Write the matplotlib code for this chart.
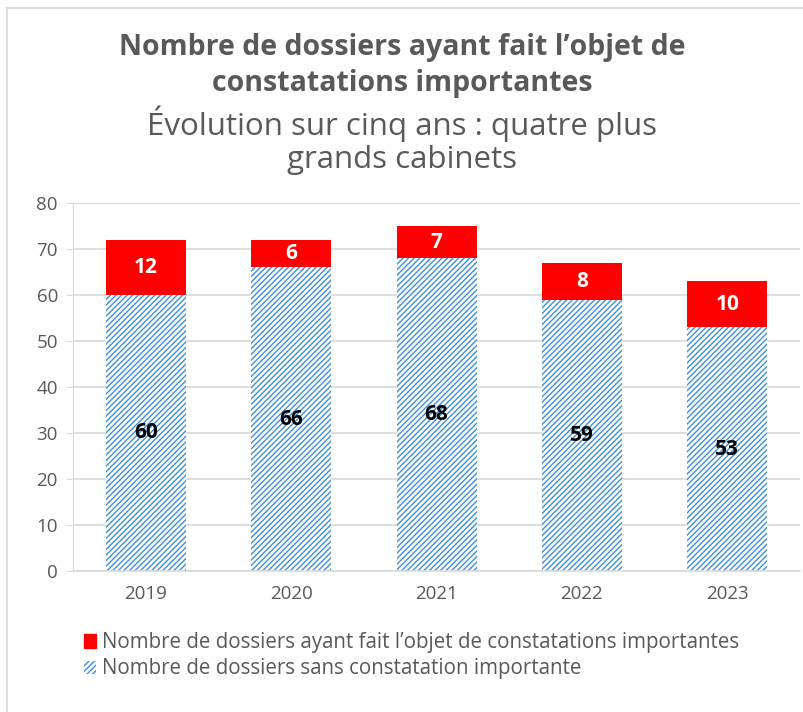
import matplotlib
matplotlib.use("Agg")
import matplotlib.pyplot as plt
from matplotlib.patches import Patch
import numpy as np

plt.rcParams['font.family'] = ['Open Sans', 'DejaVu Sans']
plt.rcParams['hatch.linewidth'] = 1.0

years = ["2019", "2020", "2021", "2022", "2023"]
sans_constatation = [60, 66, 68, 59, 53]
avec_constatation = [12, 6, 7, 8, 10]

label_red = "Nombre de dossiers ayant fait l\u2019objet de constatations importantes"
label_blue = "Nombre de dossiers sans constatation importante"

grey = "#595959"
blue = "#3d8fd6"
red = "#ff0000"

fig = plt.figure(figsize=(8.04, 7.12), dpi=100)
ax = fig.add_axes([0.091, 0.198, 0.904, 0.517])

x = np.arange(len(years))
w = 0.55
ax.bar(x, sans_constatation, w, color="white", edgecolor=blue, hatch="//////", linewidth=0)
ax.bar(x, avec_constatation, w, bottom=sans_constatation, color=red, linewidth=0)

for i in range(len(years)):
    ax.text(x[i], sans_constatation[i] / 2, str(sans_constatation[i]), ha="center", va="center",
            fontsize=15, fontweight="bold", color="black")
    ax.text(x[i], sans_constatation[i] + avec_constatation[i] / 2, str(avec_constatation[i]),
            ha="center", va="center", fontsize=15, fontweight="bold", color="white")

ax.set_xlim(-0.5, len(years) - 0.5)
ax.set_ylim(0, 80)
ax.set_yticks(range(0, 81, 10))
ax.set_xticks(x)
ax.set_xticklabels(years)
ax.tick_params(axis="both", labelsize=13.5, colors=grey)
ax.tick_params(axis="y", length=5, color="#d9d9d9", pad=6)
ax.tick_params(axis="x", length=0, pad=10)
ax.grid(axis="y", color="#d9d9d9", linewidth=1.2)
ax.set_axisbelow(True)
for s in ["top", "right"]:
    ax.spines[s].set_visible(False)
ax.spines["left"].set_color("#d9d9d9")
ax.spines["bottom"].set_color("#d9d9d9")
ax.spines["bottom"].set_linewidth(1.2)

fig.text(0.5, 0.908, "Nombre de dossiers ayant fait l\u2019objet de\nconstatations importantes",
         ha="center", va="center", fontsize=20.5, fontweight="bold", color=grey, linespacing=1.3)
fig.text(0.5, 0.803, "\u00c9volution sur cinq ans : quatre plus\ngrands cabinets",
         ha="center", va="center", fontsize=22.5, color=grey, linespacing=1.1)

handles = [Patch(facecolor=red, edgecolor=red),
           Patch(facecolor="white", edgecolor=blue, hatch="//////", linewidth=0)]
fig.legend(handles, [label_red, label_blue], loc="upper left", bbox_to_anchor=(0.104, 0.112),
           frameon=False, fontsize=14.8, labelcolor=grey, handlelength=0.6, handleheight=0.6,
           handletextpad=0.3, labelspacing=0.25, borderaxespad=0, borderpad=0)

# light frame on left and top
fig.add_artist(plt.Line2D([0.009, 0.009], [0, 0.989], color="#d9d9d9", linewidth=1.2))
fig.add_artist(plt.Line2D([0.009, 1], [0.989, 0.989], color="#d9d9d9", linewidth=1.2))

fig.savefig("out.png", dpi=100)
